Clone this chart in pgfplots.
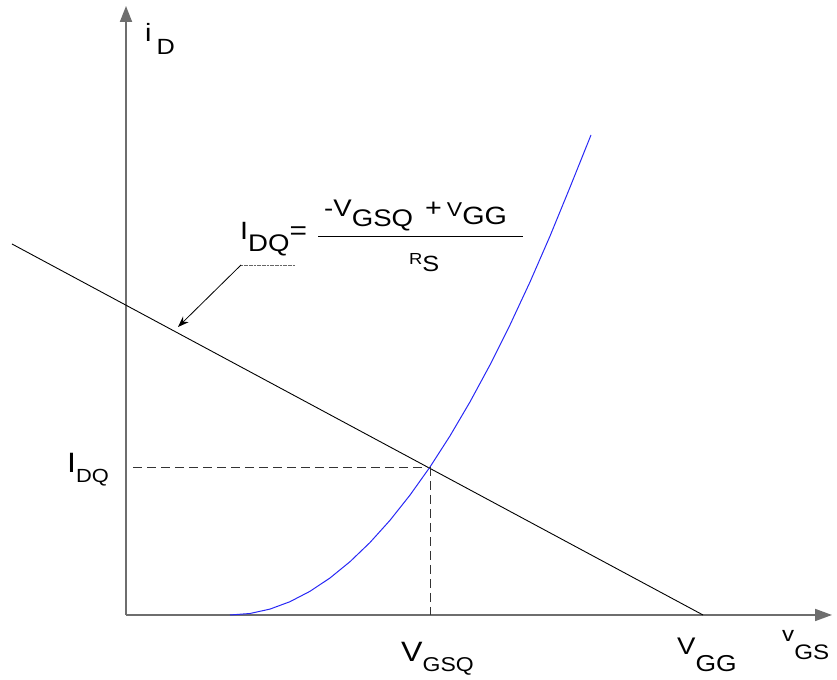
\documentclass[border=0pt]{standalone}
\usepackage{fontspec}
\setmainfont{Liberation Sans}
\usepackage{pgfplots}
\pgfplotsset{compat=1.18}
\usetikzlibrary{arrows.meta}

\definecolor{axisgray}{RGB}{110,110,110}
\definecolor{curveblue}{RGB}{40,40,245}

% text of a given size (bp), slightly widened, with a lowered subscript
\newcommand{\fs}[2]{\scalebox{1.15}[1]{\fontsize{#1bp}{#1bp}\selectfont #2}}
\newcommand{\lbl}[5]{\fs{#1}{#2}\raisebox{-#5bp}{\fs{#3}{#4}}}

\begin{document}
\begin{tikzpicture}
\begin{axis}[
  width=837bp, height=680bp, scale only axis,
  xmin=0, xmax=837, ymin=0, ymax=680,
  axis lines=none, clip=false,
]
% full drawing area
\path (axis cs:0,0) rectangle (axis cs:837,680);

% axes
\addplot[axisgray, line width=1.8bp, -{Triangle[length=16bp,width=12bp]}]
  coordinates {(126,65) (126,674)};
\addplot[axisgray, line width=1.8bp, -{Triangle[length=17bp,width=12bp]}]
  coordinates {(126,65) (832,65)};

% load line
\addplot[black, line width=0.9bp] coordinates {(12,436) (703,65)};

% transfer characteristic
\addplot[curveblue, line width=1bp] coordinates {
  (230,65) (250,66.5) (270,70.9) (290,78.3) (310,88.7) (330,102)
  (350,118.3) (370,137.5) (390,159.7) (410,184.9) (430,213)
  (450,244.1) (470,278.1) (490,315.1) (510,355.1) (530,398)
  (550,443.9) (570,492.7) (591,545)};

% operating point projections
\addplot[black!80, line width=0.9bp, dash pattern=on 9bp off 5bp]
  coordinates {(133,213) (430,213)};
\addplot[black!80, line width=0.9bp, dash pattern=on 9bp off 5bp]
  coordinates {(430,213) (430,65)};

% leader to the load line
\addplot[black!60, line width=0.6bp, dash pattern=on 2bp off 0.6bp]
  coordinates {(295,415) (241,415)};
\addplot[black, line width=0.8bp, -{Stealth[length=11bp,width=8bp]}]
  coordinates {(241,415) (178,353)};

% labels
\node[anchor=base west, inner sep=0] at (axis cs:145,638) {\fs{25}{i}\hspace{5bp}\raisebox{-13bp}{\fs{22}{D}}};
\node[anchor=base west, inner sep=0] at (axis cs:67,207) {\lbl{28}{I}{19}{DQ}{10}};
\node[anchor=base west, inner sep=0] at (axis cs:401,18) {\lbl{28}{V}{20}{GSQ}{10}};
\node[anchor=base west, inner sep=0] at (axis cs:677,25) {\lbl{24}{V}{23}{GG}{17}};
\node[anchor=base west, inner sep=0] at (axis cs:782,38) {\lbl{21}{v}{21}{GS}{18}};

% bias equation
\node[anchor=base west, inner sep=0] at (axis cs:240,440) {\lbl{25}{I}{24}{DQ}{12}\fs{26}{=}};
\addplot[black, line width=0.9bp] coordinates {(318,444) (523,444)};
\node[anchor=base west, inner sep=0] at (axis cs:324,463) {\lbl{24}{-V}{24}{GSQ}{10}};
\node[anchor=base west, inner sep=0] at (axis cs:425,463) {\fs{25}{+}\hspace{5bp}\lbl{20}{V}{25}{GG}{8}};
\node[anchor=base west, inner sep=0] at (axis cs:409,415) {\lbl{16}{R}{22}{S}{7}};
\end{axis}
\end{tikzpicture}
\end{document}
